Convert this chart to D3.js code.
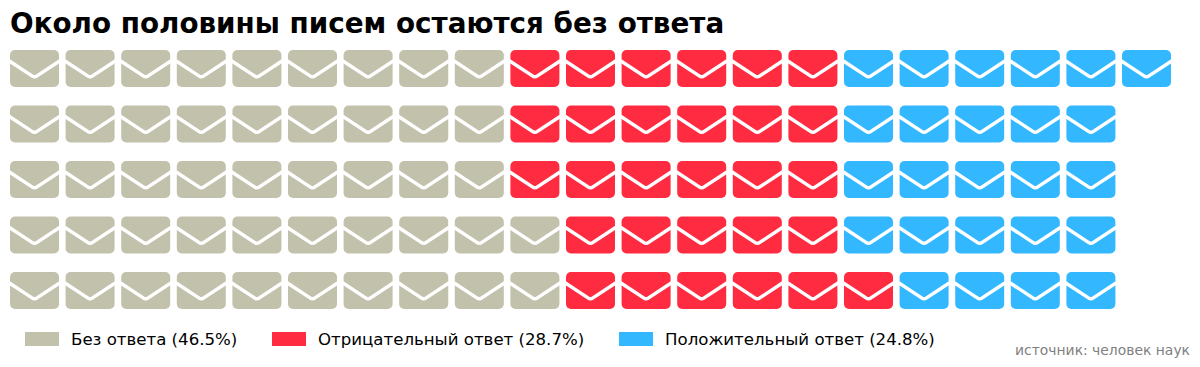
<!DOCTYPE html>
<html>
<head>
<meta charset="utf-8">
<script src="https://cdn.jsdelivr.net/npm/d3@7"></script>
<style>
    html, body { margin: 0; padding: 0; background: #fff; }
    svg { display: block; font-family: "DejaVu Sans"; }
</style>
</head>
<body>
<svg id="chart" width="1200" height="367"></svg>
<script>
var width = 1200
var height = 367

var title = "Около половины писем остаются без ответа"
var source = "источник: человек наук"

var categories = ["Без ответа", "Отрицательный ответ", "Положительный ответ"]
var shares = [46.5, 28.7, 24.8]
var colors = ["#c2c1ab", "#ff2b40", "#33b8ff"]

// envelopes per row, top row first
var noAnswer = [9, 9, 9, 10, 10]
var negative = [6, 6, 6, 5, 6]
var positive = [6, 5, 5, 5, 4]

var rows = d3.range(noAnswer.length)
var columns = d3.range(d3.max(rows, r => noAnswer[r] + negative[r] + positive[r]))

var x = d3.scalePoint().domain(columns).range([10, 1122])
var y = d3.scalePoint().domain(rows).range([50, 272])
var colorScale = d3.scaleOrdinal().domain(categories).range(colors)

var iconW = 49
var iconH = 37

var cells = []
rows.forEach(function(r) {
    var counts = [noAnswer[r], negative[r], positive[r]]
    var col = 0
    counts.forEach(function(n, i) {
        d3.range(n).forEach(function() {
            cells.push({row: r, col: col, category: categories[i]})
            col++
        })
    })
})

var svg = d3.select("#chart")

svg.append("text")
    .attr("x", 10)
    .attr("y", 33)
    .attr("font-size", 27.8)
    .attr("font-weight", "bold")
    .attr("fill", "#000")
    .text(title)

var icons = svg.append("g")
    .selectAll("g")
    .data(cells)
    .enter()
    .append("g")
    .attr("transform", d => `translate(${x(d.col)},${y(d.row)})`)

icons.append("rect")
    .attr("width", iconW)
    .attr("height", iconH)
    .attr("rx", 5)
    .attr("fill", d => colorScale(d.category))

// the flap of the envelope
icons.append("path")
    .attr("d", `M-1,${iconH * 0.29} L${iconW / 2 - 2.5},${iconH * 0.7} Q${iconW / 2},${iconH * 0.75} ${iconW / 2 + 2.5},${iconH * 0.7} L${iconW + 1},${iconH * 0.29}`)
    .attr("fill", "none")
    .attr("stroke", "#fff")
    .attr("stroke-width", 3.4)

var legendX = [25, 272, 619]
var legend = svg.append("g")
    .selectAll("g")
    .data(categories)
    .enter()
    .append("g")
    .attr("transform", (d, i) => `translate(${legendX[i]},332)`)

legend.append("rect")
    .attr("width", 34)
    .attr("height", 14)
    .attr("fill", d => colorScale(d))

legend.append("text")
    .attr("x", 46)
    .attr("y", 13)
    .attr("font-size", 16.6)
    .attr("fill", "#000")
    .text((d, i) => `${d} (${shares[i]}%)`)

svg.append("text")
    .attr("x", 1190)
    .attr("y", 355)
    .attr("text-anchor", "end")
    .attr("font-size", 13.9)
    .attr("fill", "#808080")
    .text(source)
</script>
</body>
</html>
